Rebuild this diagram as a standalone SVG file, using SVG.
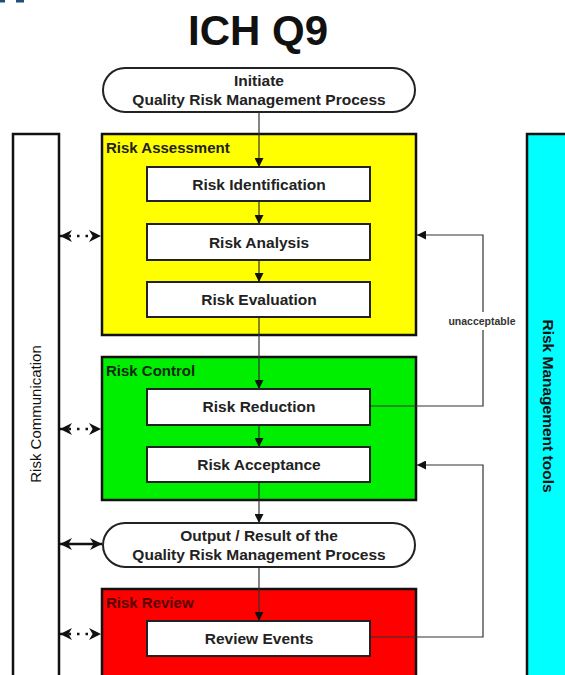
<svg xmlns="http://www.w3.org/2000/svg" width="565" height="675" viewBox="0 0 565 675">
<defs>
<marker id="ah" viewBox="0 0 10 10" refX="10" refY="5" markerWidth="9" markerHeight="9" markerUnits="userSpaceOnUse" orient="auto"><path d="M0,0 L10,5 L0,10 Z" fill="#111"/></marker>
<marker id="ahb" viewBox="0 0 10 10" refX="10" refY="5" markerWidth="12" markerHeight="12" markerUnits="userSpaceOnUse" orient="auto-start-reverse"><path d="M0,0 L10,5 L0,10 L3,5 Z" fill="#111"/></marker>
</defs>
<style>
.box{stroke:#111;stroke-width:2.5}
.inner{fill:#fff;stroke:#222;stroke-width:2}
.pill{fill:#fff;stroke:#222;stroke-width:2}
.t{font-family:"Liberation Sans",Arial,sans-serif;font-weight:bold;font-size:15.5px;fill:#222;text-anchor:middle}
.lbl{font-family:"Liberation Sans",Arial,sans-serif;font-weight:bold;font-size:15px}
.ln{fill:none;stroke:#333;stroke-width:1.2}
.dl{fill:none;stroke:#111;stroke-width:2.5}
</style>
<rect width="565" height="675" fill="#fff"/>
<rect x="0" y="0" width="5" height="2.5" fill="#1f4e79"/>
<rect x="16" y="0" width="8" height="2.5" fill="#1f4e79"/>
<text x="258" y="45" font-family="Liberation Sans,Arial,sans-serif" font-weight="bold" font-size="42" fill="#111" text-anchor="middle">ICH Q9</text>

<g id="risk-communication">
<rect x="13" y="134" width="46" height="560" fill="#fff" class="box"/>
<text transform="translate(41,414) rotate(-90)" font-family="Liberation Sans,Arial,sans-serif" font-size="15" fill="#111" text-anchor="middle">Risk Communication</text>
</g>
<g id="risk-management-tools">
<rect x="527" y="134" width="60" height="560" fill="#00ffff" class="box"/>
<text transform="translate(543,406) rotate(90)" font-family="Liberation Sans,Arial,sans-serif" font-weight="bold" font-size="15.5" fill="#111" text-anchor="middle">Risk Management tools</text>
</g>

<g id="initiate">
<rect x="103" y="68" width="312" height="44" rx="22" class="pill"/>
<text class="t" x="259" y="86" font-size="14.5">Initiate</text>
<text class="t" x="259" y="104.5">Quality Risk Management Process</text>
</g>

<g id="risk-assessment">
<rect x="102" y="134" width="314" height="201" fill="#ffff00" class="box"/>
<text class="lbl" x="106" y="153" fill="#222">Risk Assessment</text>
</g>
<g id="risk-control">
<rect x="102" y="357" width="314" height="143" fill="#00ee00" class="box"/>
<text class="lbl" x="106" y="376" fill="#0a2a0a">Risk Control</text>
</g>
<g id="risk-review">
<rect x="102" y="589" width="314" height="110" fill="#ff0000" class="box"/>
<text class="lbl" x="106" y="608" fill="#5a0000">Risk Review</text>
</g>

<g id="connectors">
<path class="ln" d="M259,112 V167" marker-end="url(#ah)"/>
<path class="ln" d="M259,201 V224" marker-end="url(#ah)"/>
<path class="ln" d="M259,260 V282" marker-end="url(#ah)"/>
<path class="ln" d="M259,317 V389" marker-end="url(#ah)"/>
<path class="ln" d="M259,425 V447" marker-end="url(#ah)"/>
<path class="ln" d="M259,482 V523" marker-end="url(#ah)"/>
<path class="ln" d="M259,567 V621" marker-end="url(#ah)"/>
<path class="ln" d="M370,406 H483 V235 H417" marker-end="url(#ah)"/>
<path class="ln" d="M370,637 H483 V465 H417" marker-end="url(#ah)"/>
<rect x="440" y="312" width="84" height="18" fill="#fff"/>
<text x="482" y="325" font-family="Liberation Sans,Arial,sans-serif" font-weight="bold" font-size="10.5" fill="#333" text-anchor="middle">unacceptable</text>
<path class="dl" d="M60,236 H101" stroke-dasharray="2.5,6" marker-start="url(#ahb)" marker-end="url(#ahb)"/>
<path class="dl" d="M60,429 H101" stroke-dasharray="2.5,6" marker-start="url(#ahb)" marker-end="url(#ahb)"/>
<path class="dl" d="M60,544 H102" marker-start="url(#ahb)" marker-end="url(#ahb)"/>
<path class="dl" d="M60,634 H101" stroke-dasharray="2.5,6" marker-start="url(#ahb)" marker-end="url(#ahb)"/>
</g>

<g id="risk-identification">
<rect x="147" y="167" width="223" height="34" class="inner"/>
<text class="t" x="259" y="190">Risk Identification</text>
</g>
<g id="risk-analysis">
<rect x="147" y="224" width="223" height="36" class="inner"/>
<text class="t" x="259" y="248">Risk Analysis</text>
</g>
<g id="risk-evaluation">
<rect x="147" y="282" width="223" height="35" class="inner"/>
<text class="t" x="259" y="305">Risk Evaluation</text>
</g>
<g id="risk-reduction">
<rect x="147" y="389" width="223" height="36" class="inner"/>
<text class="t" x="259" y="412">Risk Reduction</text>
</g>
<g id="risk-acceptance">
<rect x="147" y="447" width="223" height="35" class="inner"/>
<text class="t" x="259" y="470">Risk Acceptance</text>
</g>
<g id="output">
<rect x="103" y="523" width="312" height="44" rx="22" class="pill"/>
<text class="t" x="259" y="541">Output / Result of the</text>
<text class="t" x="259" y="559.5">Quality Risk Management Process</text>
</g>
<g id="review-events">
<rect x="147" y="621" width="223" height="35" class="inner"/>
<text class="t" x="259" y="644">Review Events</text>
</g>
</svg>
